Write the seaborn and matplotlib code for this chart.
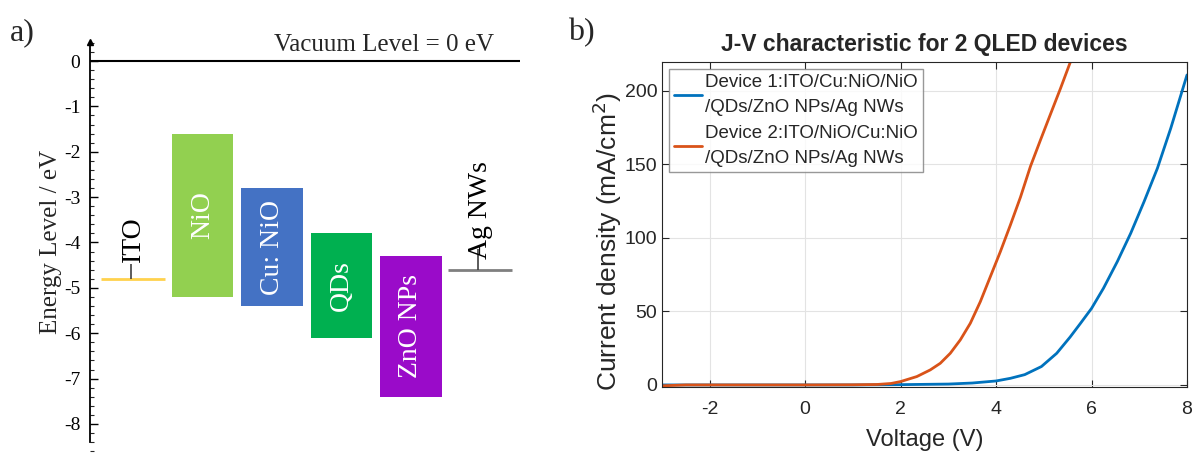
import matplotlib
matplotlib.use("Agg")
import matplotlib.pyplot as plt
import matplotlib.transforms as mtransforms
import numpy as np
import pandas as pd
import seaborn as sns

# ---- panel a) energy levels (eV) ----
layers = ["ITO", "NiO", "Cu: NiO", "QDs", "ZnO NPs", "Ag NWs"]
box_layers = ["NiO", "Cu: NiO", "QDs", "ZnO NPs"]
box_top = [-1.6, -2.8, -3.8, -4.3]
box_bottom = [-5.2, -5.4, -6.1, -7.4]
box_colors = ["#92D050", "#4472C4", "#00B050", "#9A0BC9"]
electrode_layers = ["ITO", "Ag NWs"]
electrode_level = [-4.8, -4.6]
electrode_colors = ["#FFD24D", "#7F7F7F"]
leader_len = [0.32, 0.45]
label_gap = [0.36, 0.24]
energy_ticks = [0, -1, -2, -3, -4, -5, -6, -7, -8]

# ---- panel b) J-V curves ----
dev1_label = "Device 1:ITO/Cu:NiO/NiO\n/QDs/ZnO NPs/Ag NWs"
dev2_label = "Device 2:ITO/NiO/Cu:NiO\n/QDs/ZnO NPs/Ag NWs"
dev1_v = [-3.0, -2.0, -1.0, 0.0, 1.0, 2.0, 3.0, 3.5, 4.0, 4.3, 4.6, 4.95, 5.27,
          5.55, 5.76, 6.0, 6.25, 6.54, 6.82, 7.1, 7.38, 7.66, 8.0]
dev1_j = [0.0, 0.0, 0.0, 0.0, 0.0, 0.2, 0.6, 1.3, 2.7, 4.5, 7.0, 12.5, 21.5,
          32.5, 41.5, 52.0, 65.7, 83.8, 103.0, 124.5, 147.2, 174.4, 210.6]
dev2_v = [-3.0, -2.5, -2.0, -1.0, 0.0, 1.0, 1.5, 1.8, 2.0, 2.34, 2.62, 2.83, 3.04,
          3.25, 3.46, 3.67, 3.88, 4.09, 4.3, 4.51, 4.72, 4.93, 5.14, 5.35, 5.56]
dev2_j = [-0.6, 0.0, 0.0, 0.0, 0.0, 0.1, 0.3, 1.0, 2.3, 5.7, 10.2, 14.7, 21.5,
          30.6, 41.9, 56.6, 73.6, 90.6, 108.7, 127.5, 148.5, 166.4, 184.0, 201.5, 219.7]
v_ticks = [-2, 0, 2, 4, 6, 8]
j_ticks = [0, 50, 100, 150, 200]

sns.set_theme(style="ticks")
plt.rcParams["font.family"] = ["Liberation Sans", "DejaVu Sans"]
plt.rcParams["axes.unicode_minus"] = False

W, H = 1199, 454
fig = plt.figure(figsize=(W / 100, H / 100), dpi=100)
serif = "Liberation Serif"

# ================= panel a =================
ax1 = fig.add_axes([90 / W, 0.0042, 430 / W, 0.9064])
pos = {name: i for i, name in enumerate(layers)}
ax1.set_xlim(-0.62, 5.57)
ax1.set_ylim(-8.62, 0.45)

bx = [pos[n] for n in box_layers]
heights = [t - b for t, b in zip(box_top, box_bottom)]
ax1.bar(bx, heights, bottom=box_bottom, width=0.886, color=box_colors, linewidth=0)
for n, t, b in zip(box_layers, box_top, box_bottom):
    ax1.text(pos[n], (t + b) / 2, n, rotation=90, ha="center", va="center",
             color="white", fontsize=20, family=serif)

for n, lvl, c, ll, gap in zip(electrode_layers, electrode_level, electrode_colors,
                              leader_len, label_gap):
    x = pos[n]
    ax1.hlines(lvl, x - 0.46, x + 0.46, color=c, lw=2)
    ax1.vlines(x - 0.03, lvl, lvl + ll, color="#404040", lw=1.2)
    ax1.text(x, lvl + gap, n, rotation=90, ha="center", va="bottom",
             color="black", fontsize=20, family=serif)

# vacuum level line
ax1.axhline(0, color="black", lw=1.5)
trans = mtransforms.blended_transform_factory(ax1.transAxes, ax1.transData)
ax1.text(0.94, 0.12, "Vacuum Level = 0 eV", transform=trans, ha="right",
         va="bottom", fontsize=18, family=serif)

for s in ["top", "right", "bottom"]:
    ax1.spines[s].set_visible(False)
ax1.spines["left"].set_bounds(-8.4, 0.4)
ax1.spines["left"].set_color("black")
ax1.spines["left"].set_linewidth(1.3)
ax1.plot(0, 0.42, marker="^", color="black", ms=5, transform=trans, clip_on=False)
ax1.set_xticks([])
ax1.set_yticks(energy_ticks)
ax1.set_yticklabels([str(t) for t in energy_ticks], family=serif, fontsize=14)
ax1.yaxis.set_minor_locator(plt.MultipleLocator(0.2))
ax1.tick_params(axis="y", which="major", direction="in", length=6, width=1, pad=7, colors="black")
ax1.tick_params(axis="y", which="minor", direction="in", length=3, width=0.8, left=True)
ax1.set_ylabel("Energy Level / eV", family=serif, fontsize=18)
ax1.yaxis.set_label_coords(-0.066, 0.511)
ax1.patch.set_alpha(0)

fig.text(10 / W, 1 - 40 / H, "a)", family=serif, fontsize=23)
fig.text(568 / W, 1 - 40 / H, "b)", family=serif, fontsize=23)

# ================= panel b =================
ax2 = fig.add_axes([662 / W, (H - 387) / H, 525 / W, 325 / H])
df = pd.concat([
    pd.DataFrame({"V": dev1_v, "J": dev1_j, "device": dev1_label}),
    pd.DataFrame({"V": dev2_v, "J": dev2_j, "device": dev2_label}),
])
sns.lineplot(data=df, x="V", y="J", hue="device", sort=False,
             palette=["#0072BD", "#D95319"], lw=2, ax=ax2)
ax2.set_xlim(-3, 8)
ax2.set_ylim(-1.4, 219.4)
ax2.set_xticks(v_ticks)
ax2.set_yticks(j_ticks)
ax2.grid(True, color="#e3e3e3", lw=0.8)
ax2.set_axisbelow(True)
for s in ax2.spines.values():
    s.set_color("#262626")
    s.set_linewidth(0.8)
ax2.tick_params(direction="in", top=True, right=True, length=5, width=0.8,
                labelsize=14, colors="#262626", labelcolor="#262626")
ax2.tick_params(axis="x", pad=10)
ax2.tick_params(axis="y", pad=3.5)
ax2.set_xlabel("Voltage (V)", fontsize=17, color="#262626", labelpad=8)
ax2.set_ylabel("Current density (mA/cm$^2$)", fontsize=19, color="#262626")
ax2.yaxis.set_label_coords(-0.072, 0.448)
ax2.set_title("J-V characteristic for 2 QLED devices", fontsize=16.5,
              fontweight="bold", pad=8)
leg = ax2.legend(loc="upper left", title=None, fontsize=13.5, frameon=True,
                 fancybox=False, handlelength=1.5, handletextpad=0.15,
                 borderpad=0.28, borderaxespad=0.35, labelspacing=0.5)
for t in leg.get_texts():
    t.set_linespacing(1.6)
leg.get_frame().set_edgecolor("#7f7f7f")
leg.get_frame().set_linewidth(1)

fig.savefig("out.png", dpi=100)
